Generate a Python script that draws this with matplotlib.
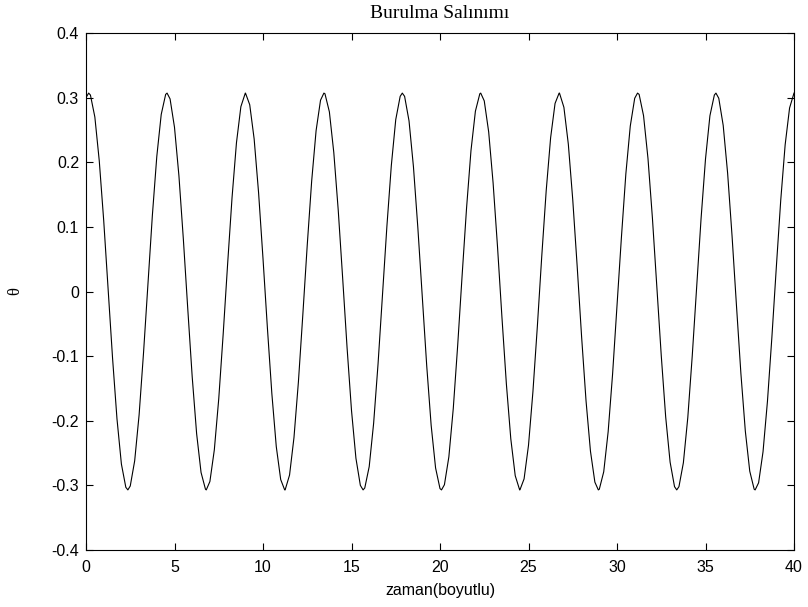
import numpy as np
import matplotlib
matplotlib.use("Agg")
import matplotlib.pyplot as plt

# time samples (step 0.25) and angle
t = np.arange(0, 40.001, 0.25)
theta = [
    0.300, 0.304, 0.270, 0.202, 0.110, 0.003, -0.103, -0.197, -0.267, -0.303,
    -0.301, -0.262, -0.191, -0.095, 0.012, 0.118, 0.209, 0.274, 0.305, 0.298,
    0.254, 0.179, 0.081, -0.027, -0.132, -0.220, -0.280, -0.306, -0.294, -0.245,
    -0.166, -0.066, 0.042, 0.145, 0.230, 0.286, 0.307, 0.289, 0.236, 0.153,
    0.051, -0.057, -0.158, -0.240, -0.291, -0.307, -0.284, -0.226, -0.140, -0.036,
    0.072, 0.171, 0.249, 0.296, 0.306, 0.278, 0.215, 0.126, 0.021, -0.087,
    -0.184, -0.258, -0.300, -0.304, -0.271, -0.204, -0.112, -0.006, 0.101, 0.195,
    0.266, 0.302, 0.302, 0.264, 0.193, 0.098, -0.009, -0.115, -0.207, -0.273,
    -0.305, -0.299, -0.256, -0.181, -0.083, 0.025, 0.129, 0.218, 0.279, 0.306,
    0.295, 0.247, 0.168, 0.069, -0.040, -0.143, -0.228, -0.285, -0.307, -0.290,
    -0.238, -0.155, -0.054, 0.055, 0.156, 0.238, 0.291, 0.307, 0.285, 0.228,
    0.142, 0.039, -0.070, -0.169, -0.247, -0.295, -0.306, -0.279, -0.217, -0.128,
    -0.023, 0.084, 0.182, 0.256, 0.299, 0.305, 0.272, 0.206, 0.114, 0.008,
    -0.099, -0.194, -0.264, -0.302, -0.302, -0.265, -0.195, -0.100, 0.007, 0.113,
    0.205, 0.272, 0.304, 0.299, 0.257, 0.183, 0.086, -0.022, -0.127, -0.216,
    -0.278, -0.306, -0.296, -0.248, -0.170, -0.071, 0.037, 0.141, 0.227, 0.284,
    0.307,
]
# peaks and troughs of the curve, read separately
t_ext = [0.15, 2.365, 4.58, 6.795, 9.01, 11.225, 13.44, 15.655, 17.87, 20.085,
         22.30, 24.515, 26.73, 28.945, 31.16, 33.375, 35.59, 37.805]
theta_ext = [0.307, -0.307, 0.307, -0.307, 0.307, -0.307, 0.307, -0.307, 0.307,
             -0.307, 0.307, -0.307, 0.307, -0.307, 0.307, -0.307, 0.307, -0.307]

xticks = [0, 5, 10, 15, 20, 25, 30, 35, 40]
yticks = [-0.4, -0.3, -0.2, -0.1, 0, 0.1, 0.2, 0.3, 0.4]
ytick_labels = ["-0.4", "-0.3", "-0.2", "-0.1", "0", "0.1", "0.2", "0.3", "0.4"]

# merge both sets of read points in time order
tt = np.concatenate([t, t_ext])
yy = np.concatenate([theta, theta_ext])
order = np.argsort(tt)
tt, yy = tt[order], yy[order]

plt.rcParams["font.family"] = "Liberation Sans"
plt.rcParams["axes.unicode_minus"] = False

fig = plt.figure(figsize=(8.08, 6.07), dpi=100)
ax = fig.add_axes([86 / 808, 1 - 550 / 607, (794 - 86) / 808, (550 - 33) / 607])

ax.plot(tt, yy, color="black", linewidth=0.8, solid_joinstyle="round")

ax.set_xlim(0, 40)
ax.set_ylim(-0.4, 0.4)
ax.set_xticks(xticks)
ax.set_xticklabels([str(v) for v in xticks])
ax.set_yticks(yticks)
ax.set_yticklabels(ytick_labels)
ax.tick_params(direction="in", top=True, right=True, length=5, width=0.8,
               labelsize=11.5)
ax.tick_params(axis="x", pad=7)
ax.tick_params(axis="y", pad=5)
for s in ax.spines.values():
    s.set_linewidth(0.8)

ax.set_title("Burulma Salınımı", family="Liberation Serif", fontsize=14, pad=11)
ax.set_xlabel("zaman(boyutlu)", fontsize=11.5, labelpad=6)
ax.set_ylabel("θ", family="Liberation Serif", fontsize=12, labelpad=20)

fig.savefig("out.png", dpi=100)
